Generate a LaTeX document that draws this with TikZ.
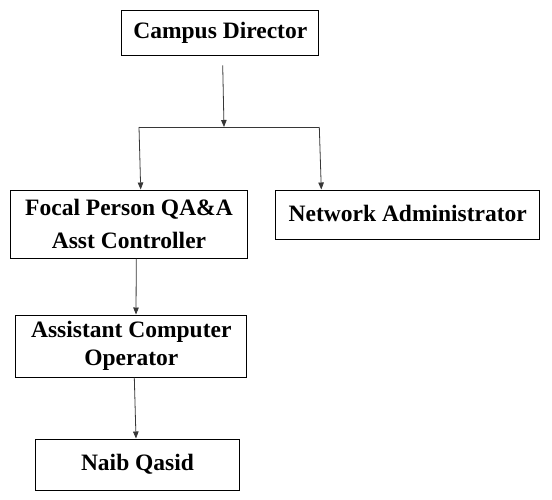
\documentclass[tikz,border=0pt]{standalone}
\usepackage{fontspec}
\setmainfont{Liberation Serif}
\usepackage{xcolor}
\usepackage{tikz}
\usetikzlibrary{calc,arrows.meta,positioning}
\definecolor{orgLine}{RGB}{55,55,55}
\definecolor{orgBorder}{RGB}{0,0,0}

\begin{document}
\begin{tikzpicture}[x=1pt,y=1pt,
  post/.style={draw=orgBorder, line width=1pt, rectangle, inner sep=2pt, align=center,
    font=\bfseries\fontsize{23.5}{31}\selectfont},
  link/.style={orgLine, line width=0.8pt},
  arr/.style={link, -{Triangle[length=7pt,width=5.5pt]}}]
\useasboundingbox (0,0) rectangle (552,-499);

\node[post, minimum width=197pt, minimum height=45pt] (cd) at (220.3,-33.3) {Campus Director};
\node[post, minimum width=237pt, minimum height=68pt, font=\bfseries\fontsize{23.5}{33}\selectfont] (fp) at (129,-224) {Focal Person QA\&A\\Asst Controller};
\node[post, minimum width=264pt, minimum height=49pt] (na) at (407.8,-214.5) {\raisebox{2.5pt}{Network Administrator}};
\node[post, minimum width=231pt, minimum height=62pt, font=\bfseries\fontsize{23.5}{28}\selectfont] (aco) at (131.3,-346) {Assistant Computer\\Operator};
\node[post, minimum width=204pt, minimum height=51pt] (nq) at (137.5,-464.5) {\raisebox{4pt}{Naib Qasid}};

% branch line under the director
\coordinate (jc) at (224,-127);
\coordinate (jl) at (139,-127);
\coordinate (jr) at (319.3,-127);
\draw[arr] ($(cd.south)+(2.4,-9)$) -- (jc);
\draw[link] (jl) -- (jr);
\draw[arr] (jl) -- ($(fp.north)+(11.7,0)$);
\draw[arr] (jr) -- ($(na.north)+(-86.5,0)$);

\draw[arr] ($(fp.south)+(7.3,0)$) -- ($(aco.north)+(4.7,0)$);
\draw[arr] ($(aco.south)+(3,0)$) -- ($(nq.north)+(-1.5,0)$);
\end{tikzpicture}
\end{document}
